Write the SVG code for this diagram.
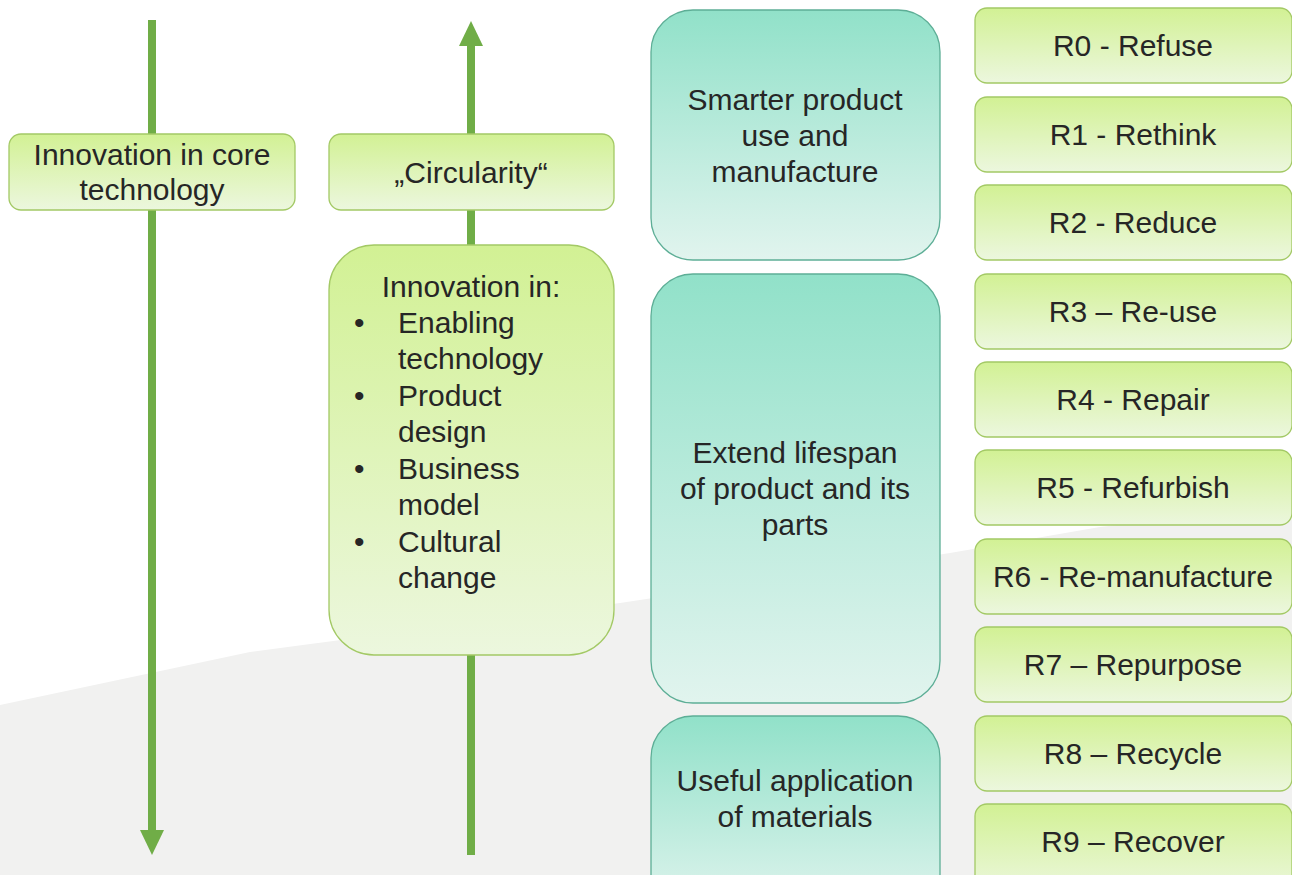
<svg xmlns="http://www.w3.org/2000/svg" width="1292" height="875" viewBox="0 0 1292 875">
<defs>
<linearGradient id="gGreen" x1="0" y1="0" x2="0" y2="1">
<stop offset="0" stop-color="#d2f194"/>
<stop offset="1" stop-color="#ecf7de"/>
</linearGradient>
<linearGradient id="gTeal" x1="0" y1="0" x2="0" y2="1">
<stop offset="0" stop-color="#91e1c9"/>
<stop offset="1" stop-color="#e1f4ee"/>
</linearGradient>
<style>
.g{fill:url(#gGreen);stroke:#a3c965;stroke-width:1.3}
.t{fill:url(#gTeal);stroke:#5dae96;stroke-width:1.3}
text{font-family:"Liberation Sans",Arial,sans-serif;font-size:30px;fill:#262626;text-anchor:middle}
.l{text-anchor:start}
.ar{fill:#70ad47}
</style>
</defs>
<rect width="1292" height="875" fill="#ffffff"/>
<path d="M0,705 L250,652 L620,603 L950,553 L1100,527 L1292,505 L1292,875 L0,875 Z" fill="#f1f1f0"/>
<g id="connectors">
<rect class="ar" x="148" y="20" width="8" height="815"/>
<polygon class="ar" points="140,830 164,830 152,855"/>
<rect class="ar" x="467" y="42" width="8" height="813"/>
<polygon class="ar" points="459,46 483,46 471,21"/>
</g>
<g id="core">
<rect class="g" x="9" y="134" width="286" height="76" rx="12"/>
<text x="152" y="165">Innovation in core</text>
<text x="152" y="200">technology</text>
</g>
<g id="circularity">
<rect class="g" x="329" y="134" width="285" height="76" rx="12"/>
<text x="471" y="183">„Circularity“</text>
</g>
<g id="innovation">
<rect class="g" x="329" y="245" width="285" height="410" rx="45"/>
<text x="471" y="297">Innovation in:</text>
<text class="l" x="354" y="333">•</text><text class="l" x="398" y="333">Enabling</text>
<text class="l" x="398" y="369">technology</text>
<text class="l" x="354" y="406">•</text><text class="l" x="398" y="406">Product</text>
<text class="l" x="398" y="442">design</text>
<text class="l" x="354" y="479">•</text><text class="l" x="398" y="479">Business</text>
<text class="l" x="398" y="515">model</text>
<text class="l" x="354" y="552">•</text><text class="l" x="398" y="552">Cultural</text>
<text class="l" x="398" y="588">change</text>
</g>
<g id="smarter">
<rect class="t" x="651" y="10" width="289" height="250" rx="42"/>
<text x="795" y="110">Smarter product</text>
<text x="795" y="146">use and</text>
<text x="795" y="182">manufacture</text>
</g>
<g id="extend">
<rect class="t" x="651" y="274" width="289" height="429" rx="42"/>
<text x="795" y="463">Extend lifespan</text>
<text x="795" y="499">of product and its</text>
<text x="795" y="535">parts</text>
</g>
<g id="useful">
<rect class="t" x="651" y="716" width="289" height="200" rx="42"/>
<text x="795" y="791">Useful application</text>
<text x="795" y="827">of materials</text>
</g>
<g id="r0"><rect class="g" x="975" y="8" width="317" height="75" rx="12"/><text x="1133" y="56">R0 - Refuse</text></g>
<g id="r1"><rect class="g" x="975" y="97" width="317" height="75" rx="12"/><text x="1133" y="145">R1 - Rethink</text></g>
<g id="r2"><rect class="g" x="975" y="185" width="317" height="75" rx="12"/><text x="1133" y="233">R2 - Reduce</text></g>
<g id="r3"><rect class="g" x="975" y="274" width="317" height="75" rx="12"/><text x="1133" y="322">R3 – Re-use</text></g>
<g id="r4"><rect class="g" x="975" y="362" width="317" height="75" rx="12"/><text x="1133" y="410">R4 - Repair</text></g>
<g id="r5"><rect class="g" x="975" y="450" width="317" height="75" rx="12"/><text x="1133" y="498">R5 - Refurbish</text></g>
<g id="r6"><rect class="g" x="975" y="539" width="317" height="75" rx="12"/><text x="1133" y="587">R6 - Re-manufacture</text></g>
<g id="r7"><rect class="g" x="975" y="627" width="317" height="75" rx="12"/><text x="1133" y="675">R7 – Repurpose</text></g>
<g id="r8"><rect class="g" x="975" y="716" width="317" height="75" rx="12"/><text x="1133" y="764">R8 – Recycle</text></g>
<g id="r9"><rect class="g" x="975" y="804" width="317" height="90" rx="12"/><text x="1133" y="852">R9 – Recover</text></g>
</svg>
